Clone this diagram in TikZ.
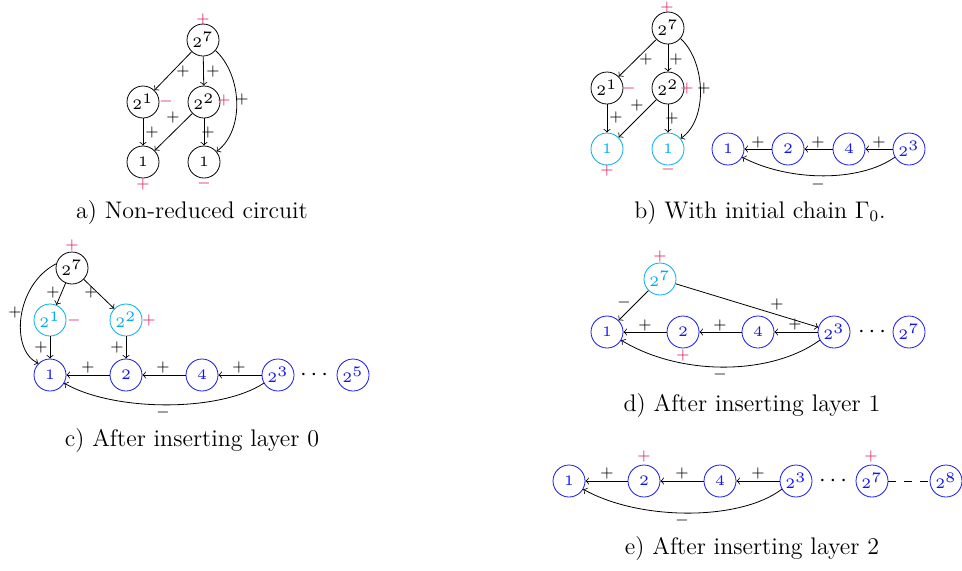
\documentclass[tikz,border=0pt]{standalone}
\usetikzlibrary{arrows}
\definecolor{myblue}{RGB}{20,20,245}
\definecolor{mycyan}{RGB}{0,174,239}
\definecolor{myred}{RGB}{220,30,95}
\newcommand\nt[1]{\scalebox{1.45}{$#1$}}
\tikzset{
  nd/.style={circle, draw, minimum size=16pt, inner sep=0pt, font=\tiny},
  bn/.style={nd, draw=myblue, text=myblue},
  cn/.style={nd, draw=mycyan, text=mycyan},
  lbl/.style={font=\footnotesize, inner sep=0.5pt},
  sgn/.style={lbl, text=myred},
  arr/.style={->},
  capt/.style={font=\large, inner sep=0pt},
  dotsnode/.style={font=\large, inner sep=0pt}
}
\begin{document}
\begin{tikzpicture}[x=0.5pt,y=-0.5pt]
\useasboundingbox (0,0) rectangle (962,570);
% ---------- panel a ----------
\node[nd] (a7) at (203,40) {\nt{2^7}};
\node[nd] (a21) at (143,102) {\nt{2^1}};
\node[nd] (a22) at (204,102) {\nt{2^2}};
\node[nd] (a1l) at (143,162) {\nt{1}};
\node[nd] (a1r) at (204,162) {\nt{1}};
\node[sgn] (sa7) at (203,19) {$+$};
\node[sgn] (sa21) at (166,101) {$-$};
\node[sgn] (sa22) at (224,100) {$+$};
\node[sgn] (sa1l) at (143,184) {$+$};
\node[sgn] (sa1r) at (204,183) {$-$};
\draw[arr] (a7) -- (a21) node[lbl] at (183,71) {$+$};
\draw[arr] (a7) -- (a22) node[lbl] at (213,71) {$+$};
\draw[arr] (a21) -- (a1l) node[lbl] at (152,132) {$+$};
\draw[arr] (a22) -- (a1l) node[lbl] at (173,117) {$+$};
\draw[arr] (a22) -- (a1r) node[lbl] at (208,132) {$+$};
\draw[arr] (a7.-40) .. controls (242,75) and (245,130) .. (a1r.40) node[lbl] at (242,99) {$+$};
\node[capt] (capa) at (192,212) {a) Non-reduced circuit};
% ---------- panel b ----------
\node[nd] (b7) at (668,28) {\nt{2^7}};
\node[nd] (b21) at (607,88) {\nt{2^1}};
\node[nd] (b22) at (668,88) {\nt{2^2}};
\node[cn] (b1l) at (607,149) {\nt{1}};
\node[cn] (b1r) at (668,149) {\nt{1}};
\node[sgn] (sb7) at (667,7) {$+$};
\node[sgn] (sb21) at (629,88) {$-$};
\node[sgn] (sb22) at (687,88) {$+$};
\node[sgn] (sb1l) at (607,170) {$+$};
\node[sgn] (sb1r) at (668,169) {$-$};
\draw[arr] (b7) -- (b21) node[lbl] at (646,59) {$+$};
\draw[arr] (b7) -- (b22) node[lbl] at (676,59) {$+$};
\draw[arr] (b21) -- (b1l) node[lbl] at (616,117) {$+$};
\draw[arr] (b22) -- (b1l) node[lbl] at (637,105) {$+$};
\draw[arr] (b22) -- (b1r) node[lbl] at (672,118) {$+$};
\draw[arr] (b7.-40) .. controls (706,62) and (708,120) .. (b1r.40) node[lbl] at (704,88) {$+$};
\node[bn] (bc1) at (728,149) {\nt{1}};
\node[bn] (bc2) at (788,149) {\nt{2}};
\node[bn] (bc4) at (849,149) {\nt{4}};
\node[bn] (bc8) at (909,149) {\nt{2^3}};
\draw[arr] (bc2) -- (bc1) node[lbl] at (758,142) {$+$};
\draw[arr] (bc4) -- (bc2) node[lbl] at (818,142) {$+$};
\draw[arr] (bc8) -- (bc4) node[lbl] at (879,142) {$+$};
\draw[arr] (bc8.-150) .. controls (860,182) and (790,182) .. (bc1.-30) node[lbl] at (818,184) {$-$};
\node[capt] (capb) at (760,212) {b) With initial chain $\Gamma_0$.};
% ---------- panel c ----------
\node[nd] (c7) at (72,268) {\nt{2^7}};
\node[cn] (c21) at (50,320) {\nt{2^1}};
\node[cn] (c22) at (126,320) {\nt{2^2}};
\node[bn] (c1) at (50,375) {\nt{1}};
\node[bn] (c2) at (126,375) {\nt{2}};
\node[bn] (c4) at (202,375) {\nt{4}};
\node[bn] (c8) at (278,375) {\nt{2^3}};
\node[dotsnode] (cdots) at (314,375) {$\cdots$};
\node[bn] (c32) at (353,375) {\nt{2^5}};
\node[sgn] (sc7) at (72,245) {$+$};
\node[sgn] (sc21) at (74,320) {$-$};
\node[sgn] (sc22) at (149,320) {$+$};
\draw[arr] (c7) -- (c21) node[lbl] at (53,292) {$+$};
\draw[arr] (c7) -- (c22) node[lbl] at (91,292) {$+$};
\draw[arr] (c7.165) .. controls (15,285) and (10,350) .. (c1.135) node[lbl] at (15,312) {$+$};
\draw[arr] (c21) -- (c1) node[lbl] at (41,347) {$+$};
\draw[arr] (c22) -- (c2) node[lbl] at (117,347) {$+$};
\draw[arr] (c2) -- (c1) node[lbl] at (88,367) {$+$};
\draw[arr] (c4) -- (c2) node[lbl] at (163,367) {$+$};
\draw[arr] (c8) -- (c4) node[lbl] at (239,367) {$+$};
\draw[arr] (c8.-150) .. controls (220,412) and (115,412) .. (c1.-30) node[lbl] at (163,412) {$-$};
\node[capt] (capc) at (192,440) {c) After inserting layer 0};
% ---------- panel d ----------
\node[cn] (d7) at (660,279) {\nt{2^7}};
\node[bn] (d1) at (607,332) {\nt{1}};
\node[bn] (d2) at (683,332) {\nt{2}};
\node[bn] (d4) at (758,332) {\nt{4}};
\node[bn] (d8) at (834,332) {\nt{2^3}};
\node[dotsnode] (ddots) at (872,332) {$\cdots$};
\node[bn] (d128) at (909,332) {\nt{2^7}};
\node[sgn] (sd7) at (660,256) {$+$};
\node[sgn] (sd2) at (683,355) {$+$};
\draw[arr] (d7) -- (d1) node[lbl] at (624,302) {$-$};
\draw[arr] (d2) -- (d1) node[lbl] at (645,325) {$+$};
\draw[arr] (d4) -- (d2) node[lbl] at (720,325) {$+$};
\draw[arr] (d8) -- (d4) node[lbl] at (795,324) {$+$};
\draw[arr] (d7) -- (d8) node[lbl] at (777,304) {$+$};
\draw[arr] (d8.-150) .. controls (770,376) and (680,376) .. (d1.-30) node[lbl] at (720,374) {$-$};
\node[capt] (capd) at (752,405) {d) After inserting layer 1};
% ---------- panel e ----------
\node[bn] (e1) at (569,481) {\nt{1}};
\node[bn] (e2) at (644,481) {\nt{2}};
\node[bn] (e4) at (720,481) {\nt{4}};
\node[bn] (e8) at (796,481) {\nt{2^3}};
\node[dotsnode] (edots) at (833,481) {$\cdots$};
\node[bn] (e128) at (872,481) {\nt{2^7}};
\node[bn] (e256) at (946,481) {\nt{2^8}};
\node[sgn] (se2) at (644,456) {$+$};
\node[sgn] (se128) at (871,456) {$+$};
\draw[arr] (e2) -- (e1) node[lbl] at (607,473) {$+$};
\draw[arr] (e4) -- (e2) node[lbl] at (682,473) {$+$};
\draw[arr] (e8) -- (e4) node[lbl] at (758,473) {$+$};
\draw[dashed, dash pattern=on 4pt off 4pt] (e128) -- (e256);
\draw[arr] (e8.-150) .. controls (740,521) and (640,521) .. (e1.-30) node[lbl] at (682,520) {$-$};
\node[capt] (cape) at (752,548) {e) After inserting layer 2};
\end{tikzpicture}
\end{document}
